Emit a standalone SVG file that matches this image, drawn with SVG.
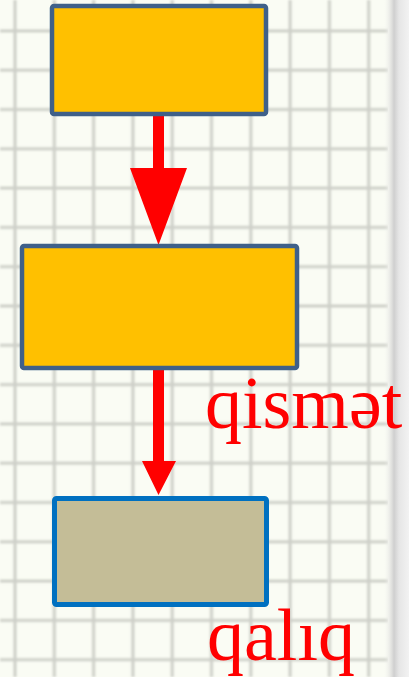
<svg xmlns="http://www.w3.org/2000/svg" width="409" height="677" viewBox="0 0 409 677">
<defs>
<pattern id="grid" x="-4.65" y="11.25" width="39.3" height="39.3" patternUnits="userSpaceOnUse">
<path d="M19.65 0V39.3M0 19.65H39.3" stroke="#cdcfc8" stroke-width="3" fill="none"/>
</pattern>
<filter id="blur" x="0" y="0" width="1" height="1"><feGaussianBlur stdDeviation="1.3"/></filter>
<linearGradient id="edge" x1="0" x2="1" y1="0" y2="0">
<stop offset="0" stop-color="#f2f2f0" stop-opacity="0"/>
<stop offset="0.4" stop-color="#cfcfcf"/>
<stop offset="0.6" stop-color="#e6e6e6"/>
<stop offset="1" stop-color="#f2f2f2"/>
</linearGradient>
</defs>
<style>
.box1{fill:#FFC000;stroke:#3F6089;stroke-width:4.5}
.box3{fill:#C4BD97;stroke:#0070C0;stroke-width:5}
.arrow{fill:#FF0000}
.lbl{font-family:"Liberation Serif","Times New Roman",serif;font-size:74px;fill:#FF0000}
</style>
<rect width="409" height="677" fill="#fafcf4"/>
<g filter="url(#blur)">
<rect width="388" height="677" fill="url(#grid)"/>
</g>
<rect x="384" y="0" width="25" height="677" fill="url(#edge)"/>
<g id="connectors">
<path class="arrow" d="M153 116H164V168H187L158.5 245L130 168H153Z"/>
<path class="arrow" d="M153 370H164V461H176L158.5 495L142 461H153Z"/>
</g>
<g id="node1"><rect class="box1" x="52" y="6" width="214" height="108" rx="2"/></g>
<g id="node2"><rect class="box1" x="22" y="246" width="275" height="122" rx="2"/></g>
<g id="node3"><rect class="box3" x="54.5" y="498.5" width="212" height="106" rx="2"/></g>
<g id="labels">
<text class="lbl" x="205" y="428">qismət</text>
<text class="lbl" x="207" y="660">qalıq</text>
</g>
</svg>
